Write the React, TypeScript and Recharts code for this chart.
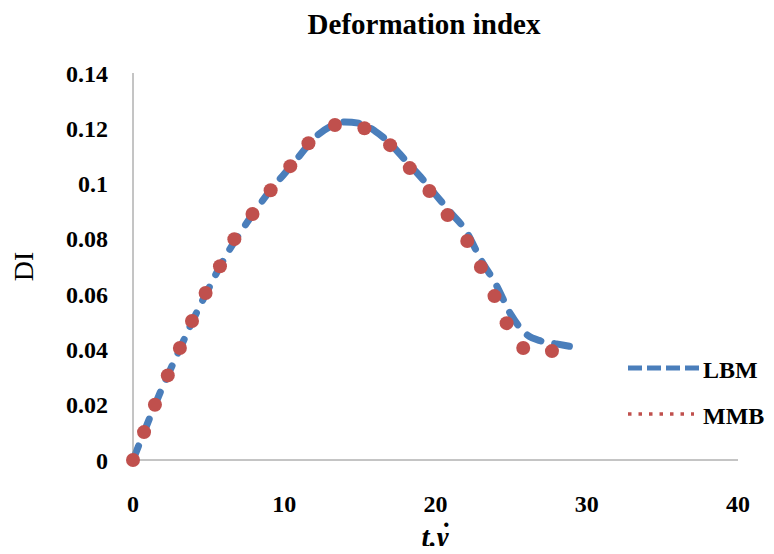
import React from "react";
import { LineChart, Line, XAxis, YAxis } from "recharts";

const chartTitle = "Deformation index";
const xLabelMain = "t.\u03B3";
const xLabelDot = "\u02D9";
const yLabel = "DI";
const seriesNames = ["LBM", "MMB"];
const xTicks = [0, 10, 20, 30, 40];
const yTicks = [0, 0.02, 0.04, 0.06, 0.08, 0.1, 0.12, 0.14];

// LBM (dashed blue curve)
const lbmX = [0, 1, 2, 3, 4, 5, 6, 7, 8, 9, 10, 11, 12, 13, 14, 15, 16, 17, 18, 19, 20, 21, 22, 23, 24, 25, 26, 27, 28, 29];
const lbmY = [0, 0.0138, 0.027, 0.039, 0.051, 0.062, 0.0725, 0.0815, 0.0895, 0.097, 0.1035, 0.11, 0.1165, 0.1205, 0.1223, 0.1218, 0.119, 0.1145, 0.1085, 0.1025, 0.096, 0.0895, 0.083, 0.0725, 0.0635, 0.0525, 0.0455, 0.043, 0.042, 0.041];

// MMB (red markers)
const mmbX = [0, 0.73, 1.45, 2.3, 3.1, 3.9, 4.8, 5.75, 6.7, 7.9, 9.1, 10.4, 11.6, 13.35, 15.3, 17.0, 18.3, 19.6, 20.8, 22.1, 23.0, 23.9, 24.7, 25.8, 27.7];
const mmbY = [0, 0.0101, 0.02, 0.0306, 0.0405, 0.0503, 0.0604, 0.0701, 0.0799, 0.089, 0.0976, 0.1063, 0.1146, 0.1212, 0.12, 0.1139, 0.1056, 0.0973, 0.0886, 0.0792, 0.0698, 0.0593, 0.0495, 0.0405, 0.0394];

const lbmData = lbmX.map((x, i) => ({ x, y: lbmY[i] }));
const mmbData = mmbX.map((x, i) => ({ x, y: mmbY[i] }));

const BLUE = "#4a7ebb";
const RED = "#c0504d";
const AXIS = "#8a8a8a";
const SERIF = "Liberation Serif, Times New Roman, serif";

const W = 766;
const H = 546;

const XLabel = (props: any) => {
  const vb = props.viewBox || {};
  const cx = vb.x + vb.width / 2;
  const by = vb.y + vb.height - 7;
  return (
    <text
      x={cx}
      y={by}
      textAnchor="middle"
      fontFamily={SERIF}
      fontSize={29}
      fontWeight={700}
      fontStyle="italic"
      fill="#000"
    >
      <tspan>{xLabelMain}</tspan>
      <tspan dx={-9} dy={-4}>{xLabelDot}</tspan>
    </text>
  );
};

export default function App() {
  const tickStyle = { fontFamily: SERIF, fontSize: 24, fontWeight: 700, fill: "#000" };
  return (
    <div style={{ position: "relative", width: W, height: H, marginBottom: -8, fontFamily: SERIF }}>
      <LineChart width={W} height={H} margin={{ top: 65, right: 36, bottom: 0, left: 0 }} style={{ fontFamily: SERIF }}>
        <XAxis
          type="number"
          dataKey="x"
          domain={[0, 40]}
          ticks={xTicks}
          height={94}
          stroke={AXIS}
          tickLine={false}
          tickSize={0}
          tickMargin={35}
          tick={tickStyle}
          interval={0}
          allowDuplicatedCategory={false}
          label={<XLabel />}
        />
        <YAxis
          type="number"
          domain={[0, 0.14]}
          ticks={yTicks}
          width={125}
          stroke={AXIS}
          tickLine={false}
          tickSize={0}
          tickMargin={25}
          tick={tickStyle}
          interval={0}
          label={{
            value: yLabel,
            angle: -90,
            position: "insideLeft",
            offset: 15,
            style: { fontFamily: SERIF, fontSize: 28, fill: "#000", textAnchor: "middle" },
          }}
        />
        <Line
          data={lbmData}
          dataKey="y"
          name={seriesNames[0]}
          type="monotone"
          stroke={BLUE}
          strokeWidth={7}
          strokeDasharray="15 14"
          strokeLinecap="round"
          dot={false}
          activeDot={false}
          isAnimationActive={false}
        />
        <Line
          data={mmbData}
          dataKey="y"
          name={seriesNames[1]}
          type="linear"
          stroke="none"
          strokeWidth={0}
          dot={{ r: 7, fill: RED, stroke: RED, strokeWidth: 0 }}
          activeDot={false}
          isAnimationActive={false}
        />
      </LineChart>
      <svg
        width={W}
        height={H}
        style={{ position: "absolute", left: 0, top: 0, pointerEvents: "none" }}
      >
        <text x={416} y={26} textAnchor="middle" fontFamily={SERIF} fontSize={29} fontWeight={700} fill="#000">
          {chartTitle}
        </text>
        <line x1={620} y1={360} x2={691} y2={360} stroke={BLUE} strokeWidth={5} strokeDasharray="14 5" />
        <text x={695} y={370} fontFamily={SERIF} fontSize={24} fontWeight={700} fill="#000">
          {seriesNames[0]}
        </text>
        <line x1={620} y1={406} x2={686} y2={406} stroke={RED} strokeWidth={3.5} strokeDasharray="3.5 7" />
        <text x={695} y={416} fontFamily={SERIF} fontSize={24} fontWeight={700} fill="#000">
          {seriesNames[1]}
        </text>
      </svg>
    </div>
  );
}
